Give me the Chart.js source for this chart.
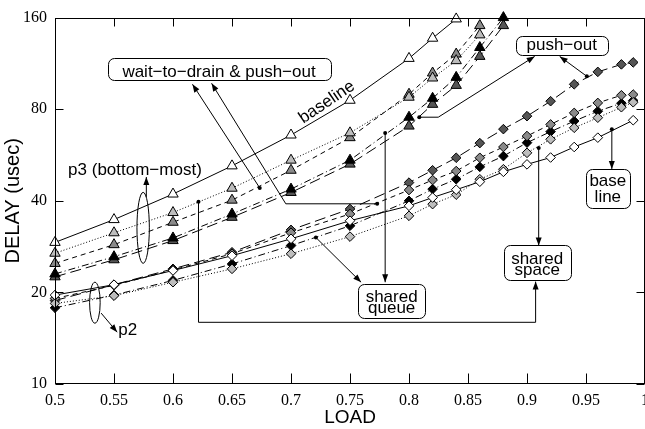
<!DOCTYPE html>
<html>
<head>
<meta charset="utf-8">
<script src="https://cdn.jsdelivr.net/npm/chart.js@4.4.0/dist/chart.umd.min.js"></script>
<style>
    html, body { margin: 0; padding: 0; background: #fff; overflow: hidden; }
    canvas { display: block; }
</style>
</head>
<body>
<canvas id="graphique" width="660" height="429"></canvas>
<script>
// loads where the simulations were run
const loads = [0.5, 0.55, 0.6, 0.65, 0.7, 0.75, 0.8, 0.82, 0.84, 0.86, 0.88, 0.9, 0.92, 0.94, 0.96, 0.98, 0.99];
const xTicks = [0.5, 0.55, 0.6, 0.65, 0.7, 0.75, 0.8, 0.85, 0.9, 0.95, 1];
const xTickLabels = ['0.5', '0.55', '0.6', '0.65', '0.7', '0.75', '0.8', '0.85', '0.9', '0.95', '1'];
const yTicks = [10, 20, 40, 80, 160];

// p3 delays (triangles), usec
const baselineP3 = [29.2, 34.7, 42.1, 52.1, 65.8, 85.6, 117.5, 136.9, 158.4, null, null, null, null, null, null, null, null];
const sharedSpaceP3 = [26.9, 31.4, 36.6, 44.0, 54.4, 66.9, 87.6, 101.3, 115.5, 140.4, null, null, null, null, null, null, null];
const waitDrainP3 = [24.9, 28.7, 34.0, 40.2, 50.4, 64.5, 89.6, 105.2, 121.4, 150.6, null, null, null, null, null, null, null];
const sharedQueueP3 = [23.0, 26.2, 30.2, 36.2, 43.7, 54.4, 75.3, 86.9, 101.8, 127.6, 160, null, null, null, null, null, null];
const pushOutP3 = [22.5, 25.6, 29.6, 35.3, 42.6, 52.8, 70.4, 83.0, 95.8, 119.3, 150.6, null, null, null, null, null, null];

// p2 delays (diamonds), usec
const baselineP2 = [19.6, 21.2, 23.6, 26.4, 30.0, 34.4, 38.5, 41.0, 43.5, 46.2, 49.8, 52.7, 55.5, 60.1, 64.5, null, 73.6];
const sharedSpaceP2 = [18.4, 19.5, 21.6, 23.9, 26.8, 30.5, 35.7, 39.0, 41.9, 47.1, 50.8, 57.5, 63.7, 69.5, 75.0, 81.2, 84.3];
const waitDrainP2 = [19.1, 21.1, 23.7, 26.8, 31.4, 36.2, 43.4, 46.8, 50.1, 55.4, 60.1, 65.3, 71.3, 77.8, 83.9, 88.9, 89.4];
const sharedQueueP2 = [17.8, 19.6, 21.9, 24.8, 28.5, 33.1, 40.0, 43.7, 47.1, 51.7, 56.1, 62.1, 67.5, 73.1, 78.8, 83.7, 85.4];
const pushOutP2 = [18.8, 21.2, 23.9, 27.1, 32.1, 37.6, 45.9, 50.4, 55.4, 61.9, 68.8, 75.9, 85.0, 96.6, 106.1, 112.3, 114.0];

// one look per scheme: marker fill + line dash
const looks = {
    baseline:    { fill: '#ffffff', dash: [] },
    sharedSpace: { fill: '#bdbdbd', dash: [1, 2] },
    waitDrain:   { fill: '#8a8a8a', dash: [5, 4] },
    sharedQueue: { fill: '#000000', dash: [7, 3, 1, 3] },
    pushOut:     { fill: '#555555', dash: [11, 5] }
};

// annotations, positions in data units (load, delay)
const boxes = [
    { at: [0.639, 108.1], w: 223, h: 22, lines: ['wait−to−drain & push−out'], base: [8] },
    { at: [0.9294, 129.1], w: 92, h: 19, lines: ['push−out'], base: [4.5] },
    { at: [0.7853, 18.8], w: 67, h: 34, lines: ['shared', 'queue'], base: [1.5, 12] },
    { at: [0.9086, 25.0], w: 67, h: 35, lines: ['shared', 'space'], base: [1, 12.5] },
    { at: [0.9685, 44.0], w: 44, h: 39, lines: ['base', 'line'], base: [-2.5, 14] }
];
const arrows = [
    { pts: [[0.6735, 44.1], [0.6165, 96.6]], dot: true },
    { pts: [[0.7730, 39.1], [0.6956, 39.1], [0.6327, 97.3]], dot: true },
    { pts: [[0.8087, 75.3], [0.8248, 75.3], [0.9065, 119.3]], dot: true },
    { pts: [[0.9507, 102.6], [0.9277, 119.3]], dot: true },
    { pts: [[0.7211, 30.3], [0.7594, 21.6]], dot: true },
    { pts: [[0.7798, 66.8], [0.7798, 21.6]], dot: true },
    { pts: [[0.9099, 59.6], [0.9099, 28.5]], dot: true },
    { pts: [[0.6216, 39.7], [0.6216, 15.95], [0.9073, 15.95], [0.9073, 21.7]], dot: true },
    { pts: [[0.9719, 68.8], [0.9719, 50.9]], dot: true },
    { pts: [[0.5774, 41.2], [0.5774, 47.9]], dot: false },
    { pts: [[0.5391, 17.1], [0.5527, 14.8]], dot: false }
];
const ellipses = [
    { at: [0.5747, 32.6], rx: 6.2, ry: 35.5 },
    { at: [0.5338, 18.5], rx: 5.3, ry: 20.5 }
];
const notes = [
    { text: 'baseline', at: [0.7304, 84.3], rot: -34, align: 'center', base: 'middle' },
    { text: 'p3 (bottom−most)', at: [0.5111, 48.7], rot: 0, align: 'left', base: 'alphabetic' },
    { text: 'p2', at: [0.5536, 14.5], rot: 0, align: 'left', base: 'alphabetic' }
];

const sansFont = '17px "Liberation Sans", Arial, sans-serif';

function serie(values, look, style, radius) {
    return {
        data: loads.map((x, i) => ({ x: x, y: values[i] })).filter(p => p.y !== null),
        borderColor: '#000',
        borderWidth: 1,
        borderDash: look.dash,
        pointStyle: style,
        pointRadius: radius,
        pointBackgroundColor: look.fill,
        pointBorderColor: '#000',
        pointBorderWidth: 1,
        fill: false,
        tension: 0,
        spanGaps: true,
        clip: false
    };
}

function roundBox(ctx, x, y, w, h, r) {
    ctx.beginPath();
    ctx.moveTo(x + r, y);
    ctx.lineTo(x + w - r, y);
    ctx.arcTo(x + w, y, x + w, y + r, r);
    ctx.lineTo(x + w, y + h - r);
    ctx.arcTo(x + w, y + h, x + w - r, y + h, r);
    ctx.lineTo(x + r, y + h);
    ctx.arcTo(x, y + h, x, y + h - r, r);
    ctx.lineTo(x, y + r);
    ctx.arcTo(x, y, x + r, y, r);
    ctx.closePath();
}

function drawArrow(ctx, pts, dot) {
    ctx.beginPath();
    ctx.moveTo(pts[0][0], pts[0][1]);
    for (let i = 1; i < pts.length; i++) {
        ctx.lineTo(pts[i][0], pts[i][1]);
    }
    ctx.stroke();
    const [x1, y1] = pts[pts.length - 2];
    const [x2, y2] = pts[pts.length - 1];
    const ang = Math.atan2(y2 - y1, x2 - x1);
    const L = 8, W = 3;
    ctx.beginPath();
    ctx.moveTo(x2, y2);
    ctx.lineTo(x2 - L * Math.cos(ang) + W * Math.sin(ang), y2 - L * Math.sin(ang) - W * Math.cos(ang));
    ctx.lineTo(x2 - L * Math.cos(ang) - W * Math.sin(ang), y2 - L * Math.sin(ang) + W * Math.cos(ang));
    ctx.closePath();
    ctx.fill();
    if (dot) {
        ctx.beginPath();
        ctx.arc(pts[0][0], pts[0][1], 2, 0, Math.PI * 2);
        ctx.fill();
    }
}

// frame, inward ticks and the hand-placed labels
const decor = {
    id: 'decor',
    afterDraw(chart) {
        const ctx = chart.ctx;
        const a = chart.chartArea;
        const xs = chart.scales.x, ys = chart.scales.y;
        const P = (p) => [xs.getPixelForValue(p[0]), ys.getPixelForValue(p[1])];
        const L = Math.round(a.left) + 0.5, R = Math.round(a.right) - 0.5;
        const T = Math.round(a.top) + 0.5, B = Math.round(a.bottom) - 0.5;

        ctx.save();
        ctx.strokeStyle = '#000';
        ctx.fillStyle = '#000';
        ctx.lineWidth = 1;
        ctx.setLineDash([]);
        ctx.strokeRect(L, T, R - L, B - T);

        ctx.beginPath();
        xs.ticks.forEach(t => {
            const x = Math.round(xs.getPixelForValue(t.value)) + 0.5;
            ctx.moveTo(x, B); ctx.lineTo(x, B - 10);
            ctx.moveTo(x, T); ctx.lineTo(x, T + 8);
        });
        ys.ticks.forEach(t => {
            const y = Math.round(ys.getPixelForValue(t.value)) + 0.5;
            ctx.moveTo(L, y); ctx.lineTo(L + 8, y);
            ctx.moveTo(R, y); ctx.lineTo(R - 8, y);
        });
        ctx.stroke();

        ctx.font = sansFont;
        ctx.textAlign = 'center';
        ctx.textBaseline = 'alphabetic';
        boxes.forEach(b => {
            const [cx, cy] = P(b.at);
            roundBox(ctx, Math.round(cx - b.w / 2) + 0.5, Math.round(cy - b.h / 2) + 0.5, b.w, b.h, 6);
            ctx.fillStyle = '#fff';
            ctx.fill();
            ctx.stroke();
            ctx.fillStyle = '#000';
            b.lines.forEach((txt, i) => ctx.fillText(txt, cx, cy + b.base[i]));
        });

        arrows.forEach(ar => drawArrow(ctx, ar.pts.map(P), ar.dot));

        ellipses.forEach(e => {
            const [cx, cy] = P(e.at);
            ctx.beginPath();
            ctx.ellipse(cx, cy, e.rx, e.ry, 0, 0, Math.PI * 2);
            ctx.stroke();
        });

        notes.forEach(n => {
            const [x, y] = P(n.at);
            ctx.save();
            ctx.translate(x, y);
            ctx.rotate(n.rot * Math.PI / 180);
            ctx.textAlign = n.align;
            ctx.textBaseline = n.base;
            ctx.fillText(n.text, 0, 0);
            ctx.restore();
        });
        ctx.restore();
    }
};

const tickFont = { family: '"Liberation Serif", "Times New Roman", serif', size: 16 };
const titleFont = { family: '"Liberation Sans", Arial, sans-serif', size: 19 };

new Chart(document.getElementById('graphique'), {
    type: 'line',
    data: {
        datasets: [
            serie(baselineP3, looks.baseline, 'triangle', 6),
            serie(sharedSpaceP3, looks.sharedSpace, 'triangle', 6),
            serie(waitDrainP3, looks.waitDrain, 'triangle', 6),
            serie(sharedQueueP3, looks.sharedQueue, 'triangle', 6),
            serie(pushOutP3, looks.pushOut, 'triangle', 6),
            serie(baselineP2, looks.baseline, 'rectRot', 4.8),
            serie(sharedSpaceP2, looks.sharedSpace, 'rectRot', 4.8),
            serie(waitDrainP2, looks.waitDrain, 'rectRot', 4.8),
            serie(sharedQueueP2, looks.sharedQueue, 'rectRot', 4.8),
            serie(pushOutP2, looks.pushOut, 'rectRot', 4.8)
        ]
    },
    options: {
        responsive: false,
        animation: false,
        devicePixelRatio: 1,
        layout: { padding: { left: 0, right: 15, top: 16, bottom: 0 } },
        plugins: { legend: { display: false }, tooltip: { enabled: false } },
        scales: {
            x: {
                type: 'linear',
                min: 0.5,
                max: 1,
                afterBuildTicks: s => { s.ticks = xTicks.map(v => ({ value: v })); },
                afterFit: s => { s.height = 45; },
                grid: { display: false, drawTicks: false },
                border: { display: false },
                ticks: {
                    autoSkip: false,
                    maxRotation: 0,
                    padding: 7,
                    color: '#000',
                    font: tickFont,
                    callback: (v, i) => xTickLabels[i]
                },
                title: { display: true, text: 'LOAD', color: '#000', font: titleFont, padding: { top: 0, bottom: 0 } }
            },
            y: {
                type: 'logarithmic',
                min: 10,
                max: 160,
                afterBuildTicks: s => { s.ticks = yTicks.map(v => ({ value: v })); },
                afterFit: s => { s.width = 55; },
                grid: { display: false, drawTicks: false },
                border: { display: false },
                ticks: {
                    padding: 8,
                    color: '#000',
                    font: tickFont,
                    callback: v => String(v)
                },
                title: { display: true, text: 'DELAY (usec)', color: '#000', font: { family: titleFont.family, size: 20 }, padding: { top: 1, bottom: 0 } }
            }
        }
    },
    plugins: [decor]
});
</script>
</body>
</html>
